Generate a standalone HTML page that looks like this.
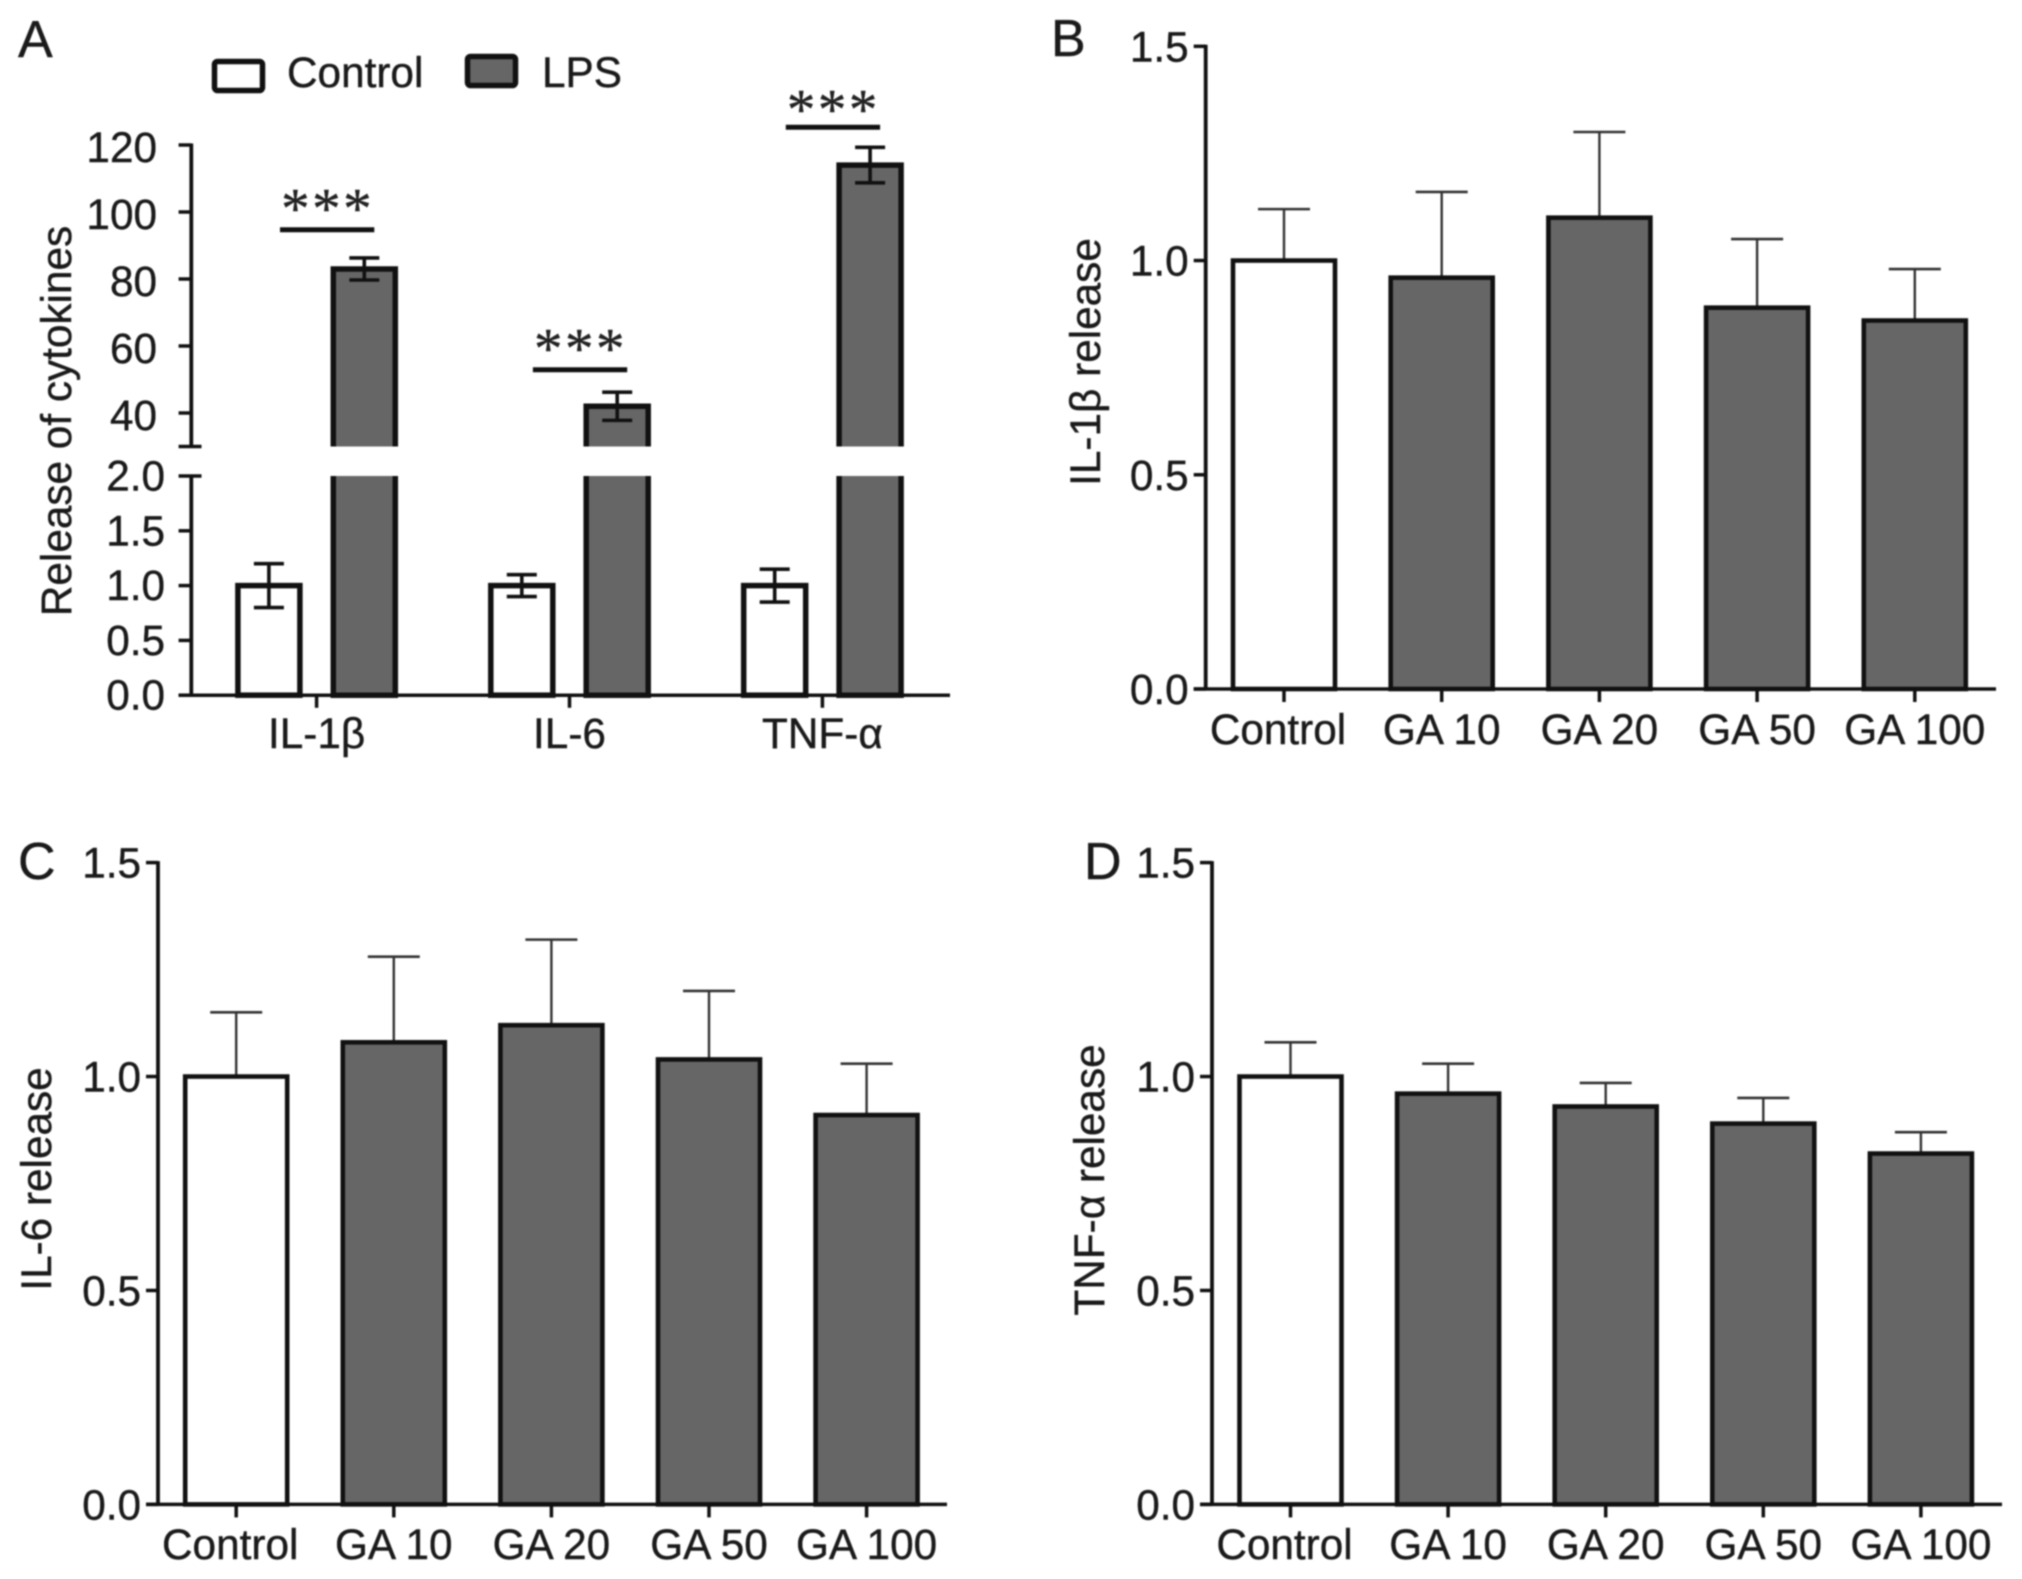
<!DOCTYPE html>
<html lang="en">
<head>
<meta charset="utf-8">
<title>Cytokine release bar charts</title>
<style>
html,body{margin:0;padding:0;background:#fff;}
svg{display:block;filter:blur(.7px);}
text{font-family:"Liberation Sans",Arial,sans-serif;fill:#1a1a1a;stroke:#1a1a1a;stroke-width:.4px;font-size:42.3px;}
.letter{font-size:52px;}
.stars{font-family:"Liberation Serif",serif;font-size:57px;letter-spacing:2.5px;text-anchor:middle;fill:#222;stroke:#222;}
</style>
</head>
<body>
<svg id="fig" xmlns="http://www.w3.org/2000/svg" width="2022" height="1579" viewBox="0 0 2022 1579">
  <rect width="2022" height="1579" fill="#fff"/>
  <text class="letter" x="18" y="57">A</text>
  <text class="letter" x="1051" y="56">B</text>
  <text class="letter" x="18" y="879">C</text>
  <text class="letter" x="1084" y="879">D</text>
  <rect x="214.5" y="61.5" width="48" height="29" rx="3" fill="#fff" stroke="#111" stroke-width="5.5"/>
  <text x="287" y="87">Control</text>
  <rect x="467.5" y="56.5" width="48" height="29" rx="3" fill="#666" stroke="#111" stroke-width="5.5"/>
  <text x="542" y="87">LPS</text>
</svg>
<script>
// Panel A data
const aCategories = ['IL-1β', 'IL-6', 'TNF-α'];
const aControlValues = [1.0, 1.0, 1.0];
const aControlErrors = [0.2, 0.1, 0.15];
const aLpsValues = [83, 42, 114];
const aLpsErrors = [3.3, 4.2, 5.3];
const aSignificanceLevels = [94.7, 52.9, 125.3];
const aStarLevels = [95.35, 53.55, 124.9];
const aSignificanceLabels = ['***', '***', '***'];
const aUpperTicks = [120, 100, 80, 60, 40];
const aLowerTicks = [2.0, 1.5, 1.0, 0.5, 0.0];

// Panels B, C, D data
const doseCategories = ['Control', 'GA 10', 'GA 20', 'GA 50', 'GA 100'];
const doseTicks = [1.5, 1.0, 0.5, 0.0];
const bValues = [1.0, 0.96, 1.10, 0.89, 0.86];
const bErrorTops = [1.12, 1.16, 1.30, 1.05, 0.98];
const cValues = [1.0, 1.08, 1.12, 1.04, 0.91];
const cErrorTops = [1.15, 1.28, 1.32, 1.20, 1.03];
const dValues = [1.0, 0.96, 0.93, 0.89, 0.82];
const dErrorTops = [1.08, 1.03, 0.985, 0.95, 0.87];

const svg = document.getElementById('fig');
const NS = 'http://www.w3.org/2000/svg';
const INK = '#111';

function make(tag, props, parent) {
  const el = document.createElementNS(NS, tag);
  for (const k in props) el.setAttribute(k, props[k]);
  (parent || svg).appendChild(el);
  return el;
}
function seg(x1, y1, x2, y2, w, parent) {
  return make('line', {x1: x1, y1: y1, x2: x2, y2: y2, stroke: INK, 'stroke-width': w}, parent);
}
function label(str, x, y, anchor, parent) {
  const t = make('text', {x: x, y: y, 'text-anchor': anchor}, parent);
  t.textContent = str;
  return t;
}

/* ---------- Panel A ---------- */
(function () {
  const g = make('g', {});
  
  

  const axisX = 191.3, baseY = 695.2, tickLeft = 178.6, tickRight = 201.5, axisEnd = 950;
  const yLow = v => baseY - v * 109.6;
  const yUp = v => 145 + (120 - v) * 3.35;
  const BREAK_LOW = 2.0, BREAK_UP = 30;
  const groupX = i => 316.6 + i * 252.9;
  const barW = 62, offset = 47.7, SW = 5.5;

  // Bars
  aCategories.forEach((cat, i) => {
    const cx = groupX(i) - offset, lx = groupX(i) + offset;
    const cBar = make('rect', {x: cx - barW / 2, y: yLow(aControlValues[i]), width: barW, height: baseY - yLow(aControlValues[i]), fill: '#fff', stroke: INK, 'stroke-width': SW}, g);
    
    

    const cTop = yLow(aControlValues[i] + aControlErrors[i]), cBot = yLow(aControlValues[i] - aControlErrors[i]);
    const cErr = make('path', {d: `M${cx - 15} ${cTop}H${cx + 15}M${cx} ${cTop}V${cBot}M${cx - 15} ${cBot}H${cx + 15}`, fill: 'none', stroke: INK, 'stroke-width': 3.6}, g);
    
    

    const lowSeg = make('path', {d: `M${lx - barW / 2} ${yLow(BREAK_LOW)}V${baseY}H${lx + barW / 2}V${yLow(BREAK_LOW)}`, fill: '#666', stroke: INK, 'stroke-width': SW}, g);
    
    

    const vTop = yUp(aLpsValues[i]);
    const upSeg = make('path', {d: `M${lx - barW / 2} ${yUp(BREAK_UP)}V${vTop}H${lx + barW / 2}V${yUp(BREAK_UP)}`, fill: '#666', stroke: INK, 'stroke-width': SW}, g);
    
    

    const lTop = yUp(aLpsValues[i] + aLpsErrors[i]), lBot = yUp(aLpsValues[i] - aLpsErrors[i]);
    const lErr = make('path', {d: `M${lx - 15} ${lTop}H${lx + 15}M${lx} ${lTop}V${lBot}M${lx - 15} ${lBot}H${lx + 15}`, fill: 'none', stroke: INK, 'stroke-width': 3.6}, g);
    
    

    const sy = yUp(aSignificanceLevels[i]);
    const sigLine = seg(groupX(i) - 36.6, sy, groupX(i) + 57.7, sy, 5, g);
    
    

    const stars = make('text', {class: 'stars', x: groupX(i) + 11, y: yUp(aStarLevels[i])}, g);
    stars.textContent = aSignificanceLabels[i];
    
    

    const tick = seg(groupX(i), baseY, groupX(i), 707.8, 3.5, g);
    
    

    const xl = label(cat, groupX(i), 748, 'middle', g);
    
    
  });

  // Axes
  const yAxisUp = seg(axisX, yUp(aUpperTicks[0]) - 1.5, axisX, yUp(BREAK_UP) + 1.5, 3.8, g);
  
  
  const yAxisLow = seg(axisX, yLow(BREAK_LOW) - 1.5, axisX, baseY, 3.8, g);
  
  
  const xAxis = seg(tickLeft, baseY, axisEnd, baseY, 3.5, g);
  
  

  aUpperTicks.forEach(v => {
    const t = seg(tickLeft, yUp(v), axisX, yUp(v), 3.5, g);
    
    
    const l = label(String(v), 157, yUp(v) + 17, 'end', g);
    
    
  });
  aLowerTicks.forEach(v => {
    const t = seg(tickLeft, yLow(v), v === BREAK_LOW ? tickRight : axisX, yLow(v), 3.5, g);
    
    
    const l = label(v.toFixed(1), 165, yLow(v) + 14.5, 'end', g);
    
    
  });
  const brk = seg(tickLeft, yUp(BREAK_UP), tickRight, yUp(BREAK_UP), 3.5, g);
  
  

  const title = make('text', {x: 0, y: 0, 'text-anchor': 'middle', transform: 'translate(71 421) rotate(-90)'}, g);
  title.textContent = 'Release of cytokines';
  
  
})();

/* ---------- Panels B, C, D ---------- */
function drawDosePanel(key, titleText, values, tops, L) {
  const g = make('g', {});
  
  

  const yOf = v => L.baseY - v * (L.baseY - L.topY) / 1.5;
  const xOf = i => L.firstX + i * L.stepX;
  const barW = 102;

  doseCategories.forEach((cat, i) => {
    const x = xOf(i), top = yOf(values[i]), errTop = yOf(tops[i]);

    const stem = seg(x, errTop, x, top, 2.4, g);
    stem.setAttribute('stroke', '#333');
    
    

    const cap = seg(x - 26, errTop, x + 26, errTop, 2.6, g);
    cap.setAttribute('stroke', '#333');
    
    

    const bar = make('rect', {x: x - barW / 2, y: top, width: barW, height: L.baseY - top, fill: i === 0 ? '#fff' : '#666', stroke: INK, 'stroke-width': 4.6}, g);
    
    

    const tick = seg(x, L.baseY, x, L.baseY + 13, 3.5, g);
    
    

    const lab = label(cat, i === 0 ? x - 6 : x, L.labelY, 'middle', g);
    
    
  });

  const yAxis = seg(L.axisX, L.topY - 1.5, L.axisX, L.baseY, 3.8, g);
  
  
  const xAxis = seg(L.axisX - 12, L.baseY, L.axisEnd, L.baseY, 3.5, g);
  
  

  doseTicks.forEach(v => {
    const t = seg(L.axisX - 12, yOf(v), L.axisX, yOf(v), 3.5, g);
    
    
    const l = label(v.toFixed(1), L.axisX - 17, yOf(v) + 15, 'end', g);
    
    
  });

  const title = make('text', {'text-anchor': 'middle', x: 0, y: 0, transform: `translate(${L.titleX} ${L.titleY}) rotate(-90)`}, g);
  title.textContent = titleText;
  
  
}

drawDosePanel('panel-b', 'IL-1β release', bValues, bErrorTops, {axisX: 1205.7, axisEnd: 1996, baseY: 689, topY: 46.3, firstX: 1284, stepX: 157.7, labelY: 744, titleX: 1100, titleY: 362});
drawDosePanel('panel-c', 'IL-6 release', cValues, cErrorTops, {axisX: 158, axisEnd: 947, baseY: 1504.4, topY: 862.6, firstX: 236.2, stepX: 157.6, labelY: 1559, titleX: 51, titleY: 1179});
drawDosePanel('panel-d', 'TNF-α release', dValues, dErrorTops, {axisX: 1212, axisEnd: 2002, baseY: 1504.4, topY: 862.6, firstX: 1290.5, stepX: 157.6, labelY: 1559, titleX: 1104, titleY: 1180});
</script>
</body>
</html>
